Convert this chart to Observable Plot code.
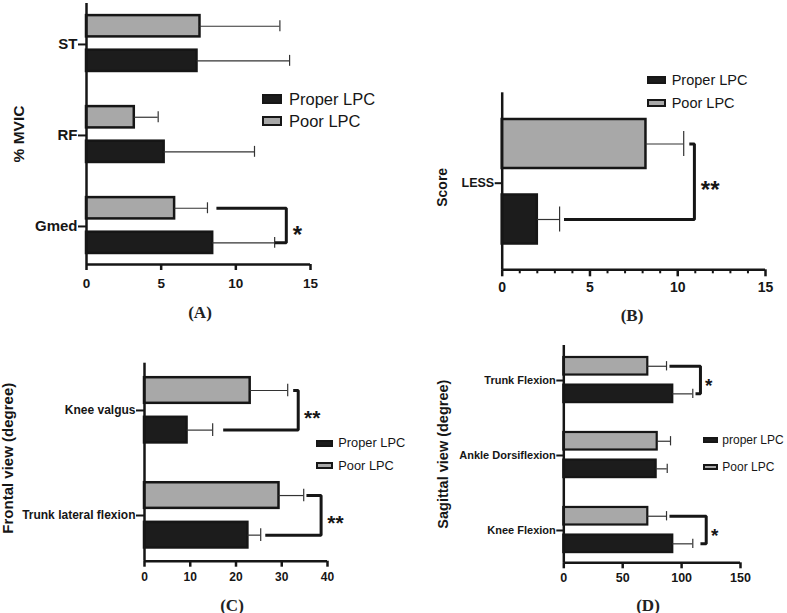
<!DOCTYPE html>
<html><head><meta charset="utf-8">
<script src="https://cdn.jsdelivr.net/npm/d3@7"></script>
<script src="https://cdn.jsdelivr.net/npm/@observablehq/plot@0.6"></script>
<style>
body{margin:0;background:#fff;}
#root{position:relative;width:787px;height:613px;overflow:hidden;font-family:"Liberation Sans",Arial,sans-serif;background:#fff;}
.box{position:absolute;box-sizing:border-box;border:2px solid #161616;}
.lt{position:absolute;transform:translateY(-50%);color:#161616;white-space:nowrap;line-height:1;}
.plab{position:absolute;font-family:"Liberation Serif","Times New Roman",serif;font-weight:bold;transform:translate(-50%,-50%);color:#222;font-size:17px;line-height:1;}
</style></head><body><div id="root"></div>
<script>
// ---------- data ----------
const groups = ["Proper LPC", "Poor LPC"];

// (A) % MVIC
const aCats = ["Gmed", "RF", "ST"];
const aProper = [8.45, 5.2, 7.4];
const aProperSD = [4.15, 6.05, 6.2];
const aPoor = [5.9, 3.2, 7.6];
const aPoorSD = [2.2, 1.6, 5.35];
const aTicks = [0, 5, 10, 15];
const aLegend = ["Proper LPC", "Poor LPC"];

// (B) LESS score
const bCats = ["LESS"];
const bProper = [2.0];
const bProperSD = [1.27];
const bPoor = [8.19];
const bPoorSD = [2.15];
const bTicks = [0, 5, 10, 15];
const bLegend = ["Proper LPC", "Poor LPC"];

// (C) Frontal view (degree)
const cCats = ["Trunk lateral flexion", "Knee valgus"];
const cProper = [22.6, 9.3];
const cProperSD = [2.8, 5.6];
const cPoor = [29.4, 23.1];
const cPoorSD = [5.4, 8.2];
const cTicks = [0, 10, 20, 30, 40];
const cLegend = ["Proper LPC", "Poor LPC"];

// (D) Sagittal view (degree)
const dCats = ["Knee Flexion", "Ankle Dorsiflexion", "Trunk Flexion"];
const dProper = [92.5, 78.4, 92.5];
const dProperSD = [17.0, 9.4, 17.0];
const dPoor = [71.3, 79.3, 71.3];
const dPoorSD = [15.9, 11.3, 15.9];
const dTicks = [0, 50, 100, 150];
const dLegend = ["proper LPC", "Poor LPC"];

// significance brackets (annotation, in data units)
const aSig = [{cat: "Gmed", topStart: 8.7, right: 13.38, bottomEnd: 12.6, starX: 14.13, stars: "*"}];
const bSig = [{cat: "LESS", topStart: 10.66, right: 10.95, bottomEnd: 3.52, starX: 11.85, stars: "**"}];
const cSig = [
  {cat: "Knee valgus", topStart: 32.5, right: 33.6, bottomEnd: 17.2, starX: 36.65, stars: "**"},
  {cat: "Trunk lateral flexion", topStart: 35.4, right: 38.6, bottomEnd: 26.4, starX: 41.75, stars: "**"}
];
const dSig = [
  {cat: "Trunk Flexion", topStart: 89.7, right: 116, bottomEnd: 111.8, starX: 123.1, stars: "*"},
  {cat: "Knee Flexion", topStart: 89.7, right: 120.9, bottomEnd: 116, starX: 128.2, stars: "*"}
];

// ---------- drawing ----------
const BLACK = "#1c1c1c", GRAY = "#a8a8a8", INK = "#161616";
const root = document.getElementById("root");

function panel(cfg) {
  const L = cfg.layout;
  const cats = cfg.cats;
  const rows = [];
  cats.forEach((c, i) => {
    rows.push({cat: c, group: "Poor LPC", value: cfg.poor[i], sd: cfg.poorSD[i], pos: i + L.offPoor});
    rows.push({cat: c, group: "Proper LPC", value: cfg.proper[i], sd: cfg.properSD[i], pos: i + L.offProper});
  });
  const br = cfg.sig.flatMap(b => {
    const i = cats.indexOf(b.cat);
    return [
      {id: b.cat, x: b.topStart, y: i + L.offPoor},
      {id: b.cat, x: b.right, y: i + L.offPoor},
      {id: b.cat, x: b.right, y: i + L.offProper},
      {id: b.cat, x: b.bottomEnd, y: i + L.offProper}
    ];
  });
  const stars = cfg.sig.map(b => ({x: b.starX, y: cats.indexOf(b.cat), t: b.stars}));
  const marks = [
    Plot.rect(rows, {x1: 0, x2: "value", y1: d => d.pos - L.half, y2: d => d.pos + L.half,
      fill: "group", stroke: INK, strokeWidth: L.barStroke}),
    Plot.ruleY(rows, {y: "pos", x1: "value", x2: d => d.value + d.sd, stroke: "#333", strokeWidth: 1.2}),
    Plot.ruleX(rows, {x: d => d.value + d.sd, y1: d => d.pos - L.cap, y2: d => d.pos + L.cap, stroke: "#333", strokeWidth: 1.2}),
    Plot.line(br, {x: "x", y: "y", z: "id", stroke: INK, strokeWidth: 3, strokeLinejoin: "miter", strokeLinecap: "butt"}),
    Plot.text(stars, {x: "x", y: "y", text: "t", fontSize: L.starSize, dy: L.starDy, fill: INK}),
    Plot.ruleX([0], {stroke: INK, strokeWidth: 2.5}),
    Plot.ruleY([L.yDomain[0]], {stroke: INK, strokeWidth: 2.5}),
    Plot.axisY({ticks: d3.range(cats.length), tickFormat: i => cats[i], tickSize: L.yTick, tickPadding: 1,
      strokeWidth: 2, fontSize: L.yFont, fontWeight: "bold"}),
    Plot.axisX({ticks: cfg.xTicks, tickSize: L.xTick, tickPadding: L.xPad, strokeWidth: 2.5,
      fontSize: L.xFont, fontWeight: "bold", tickFormat: d => String(d)}),
    Plot.text([cfg.title], {frameAnchor: "left", textAnchor: "middle", rotate: -90, dx: L.titleDx, dy: L.titleDy,
      fontSize: L.titleSize, fontWeight: "bold", text: d => d, fill: INK})
  ];
  if (cfg.minor) {
    marks.push(Plot.axisX({ticks: cfg.minor, tickSize: 4, strokeWidth: 2, tickFormat: () => ""}));
  }
  const svg = Plot.plot({
    width: L.w, height: L.h,
    marginLeft: L.ml, marginRight: L.mr, marginTop: L.mt, marginBottom: L.mb,
    x: {domain: [cfg.xTicks[0], cfg.xTicks[cfg.xTicks.length - 1]], label: null},
    y: {domain: L.yDomain, label: null},
    color: {domain: groups, range: [BLACK, GRAY]},
    style: {position: "absolute", left: L.left + "px", top: L.top + "px", fontFamily: '"Liberation Sans", Arial, sans-serif',
      fontWeight: "bold", color: INK, background: "transparent", overflow: "visible"},
    marks
  });
  root.appendChild(svg);

  // legend
  const lg = cfg.legend;
  [0, 1].forEach(k => {
    const b = document.createElement("div");
    b.className = "box";
    Object.assign(b.style, {left: lg.bx + "px", top: (lg.cy[k] - lg.bh / 2) + "px", width: lg.bw + "px", height: lg.bh + "px",
      background: k === 0 ? BLACK : GRAY});
    root.appendChild(b);
    const t = document.createElement("div");
    t.className = "lt";
    t.textContent = cfg.legendText[k];
    Object.assign(t.style, {left: lg.tx + "px", top: lg.cy[k] + "px", fontSize: lg.fs + "px"});
    root.appendChild(t);
  });
  const p = document.createElement("div");
  p.className = "plab";
  p.textContent = cfg.tag;
  Object.assign(p.style, {left: cfg.tagXY[0] + "px", top: cfg.tagXY[1] + "px"});
  root.appendChild(p);
}

panel({
  cats: aCats, proper: aProper, properSD: aProperSD, poor: aPoor, poorSD: aPoorSD, xTicks: aTicks, sig: aSig,
  title: "% MVIC", legendText: aLegend, tag: "(A)", tagXY: [200, 312],
  legend: {bx: 262, bw: 20, bh: 10, tx: 289, cy: [99, 121], fs: 16.5},
  layout: {left: 0, top: 0, w: 400, h: 300, ml: 86, mr: 90, mt: 3, mb: 36, yDomain: [-0.418, 2.45],
    offPoor: 0.2, offProper: -0.18, half: 0.117, cap: 0.06, barStroke: 2.5,
    yTick: 8, yFont: 15, xTick: 6, xPad: 8, xFont: 13.5, titleDx: -67.5, titleDy: 0, titleSize: 15.5, starSize: 24, starDy: 9}
});

panel({
  cats: bCats, proper: bProper, properSD: bProperSD, poor: bPoor, poorSD: bPoorSD, xTicks: bTicks, sig: bSig,
  minor: d3.range(1, 15).filter(v => v % 5 !== 0),
  title: "Score", legendText: bLegend, tag: "(B)", tagXY: [632, 315],
  legend: {bx: 646.7, bw: 19, bh: 8, tx: 671.7, cy: [79.5, 103], fs: 14.5},
  layout: {left: 400, top: 0, w: 387, h: 300, ml: 101.7, mr: 22, mt: 92.3, mb: 30.7, yDomain: [-0.866, 0.904],
    offPoor: 0.392, offProper: -0.363, half: 0.245, cap: 0.125, barStroke: 2.5,
    yTick: 7, yFont: 12.5, xTick: 7, xPad: 5, xFont: 14, titleDx: -59.7, titleDy: 6, titleSize: 14, starSize: 24, starDy: 7.5}
});

panel({
  cats: cCats, proper: cProper, properSD: cProperSD, poor: cPoor, poorSD: cPoorSD, xTicks: cTicks, sig: cSig,
  title: "Frontal view (degree)", legendText: cLegend, tag: "(C)", tagXY: [232, 605],
  legend: {bx: 315.7, bw: 17, bh: 7, tx: 338.3, cy: [443.3, 465.7], fs: 12.8},
  layout: {left: 0, top: 300, w: 400, h: 313, ml: 144, mr: 73, mt: 62.7, mb: 52.3, yDomain: [-0.435, 1.45],
    offPoor: 0.19, offProper: -0.187, half: 0.122, cap: 0.06, barStroke: 2.5,
    yTick: 8, yFont: 12, xTick: 6, xPad: 5.5, xFont: 12, titleDx: -136.5, titleDy: -4, titleSize: 15, starSize: 21, starDy: 7.5}
});

panel({
  cats: dCats, proper: dProper, properSD: dProperSD, poor: dPoor, poorSD: dPoorSD, xTicks: dTicks, sig: dSig,
  title: "Sagittal view (degree)", legendText: dLegend, tag: "(D)", tagXY: [648, 605],
  legend: {bx: 702.7, bw: 15.6, bh: 6, tx: 722.3, cy: [439.5, 466.5], fs: 12},
  layout: {left: 400, top: 300, w: 387, h: 313, ml: 163.3, mr: 47, mt: 45, mb: 50.7, yDomain: [-0.431, 2.467],
    offPoor: 0.19, offProper: -0.178, half: 0.117, cap: 0.062, barStroke: 2.2,
    yTick: 7, yFont: 11, xTick: 6, xPad: 4.5, xFont: 12.5, titleDx: -120.3, titleDy: 0, titleSize: 14.5, starSize: 19, starDy: 5.5}
});
</script></body></html>
